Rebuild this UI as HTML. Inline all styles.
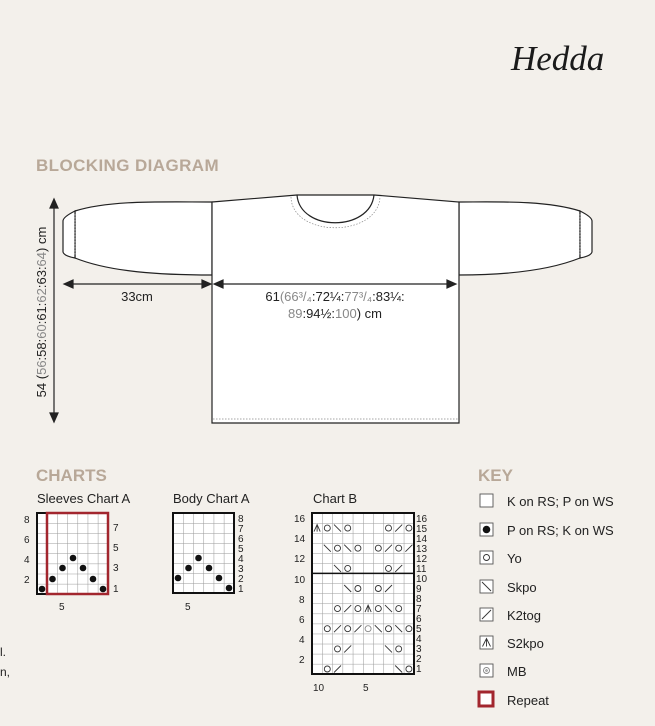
<!DOCTYPE html>
<html><head><meta charset="utf-8"><style>
html,body{margin:0;padding:0;background:#f3f0eb;}
svg{display:block;font-family:"Liberation Sans",sans-serif;}
</style></head><body>
<svg width="655" height="726" viewBox="0 0 655 726" xmlns="http://www.w3.org/2000/svg">
<defs>
<pattern id="gA" x="37" y="513" width="10.14" height="10.125" patternUnits="userSpaceOnUse"><rect width="10.14" height="10.125" fill="#fff"/><path d="M0 0H10.14M0 0V10.125" stroke="#999" stroke-width="1" fill="none"/></pattern>
<pattern id="gB" x="173" y="513" width="10.17" height="10" patternUnits="userSpaceOnUse"><rect width="10.17" height="10" fill="#fff"/><path d="M0 0H10.17M0 0V10" stroke="#999" stroke-width="1" fill="none"/></pattern>
<pattern id="gC" x="312" y="513" width="10.2" height="10.06" patternUnits="userSpaceOnUse"><rect width="10.2" height="10.06" fill="#fff"/><path d="M0 0H10.2M0 0V10.06" stroke="#999" stroke-width="1" fill="none"/></pattern>
</defs>
<rect width="655" height="726" fill="#f3f0eb"/>
<text x="511" y="70" font-family="Liberation Serif,serif" font-style="italic" font-size="35" fill="#1a1a1a">Hedda</text>
<text x="36" y="171" font-size="17" font-weight="bold" fill="#b8a898" letter-spacing="0.4">BLOCKING DIAGRAM</text>

<!-- sweater -->
<g stroke="#222" stroke-width="1.2" fill="#fff">
<path d="M75 211 C110 200 160 202 212 202 L212 275 C160 275 110 272 75 258 Z"/>
<path d="M63 221 Q63 217 75 211 L75 258 Q64 256 63 252 Z"/>
<path d="M580 211 C545 200 495 202 459 202 L459 275 C495 275 545 272 580 258 Z"/>
<path d="M606 221 Q606 217 594 211 L580 211 L580 258 L594 258 Q605 256 606 252 Z" fill="none" stroke="none"/>
<path d="M592 221 Q592 217 580 211 L580 258 Q591 256 592 252 Z"/>
<path d="M212 202 L297 195 L374 195 L459 202 L459 423 L212 423 Z"/>
<path d="M297 195 C300 232 370 232 374 195" fill="none"/>
</g>
<g stroke="#888" stroke-width="0.7" stroke-dasharray="1.5 1.5" fill="none">
<path d="M291 197 C292 238 378 238 380 197"/>
<line x1="213" y1="419" x2="458" y2="419"/>
<line x1="75" y1="214" x2="75" y2="256"/>
<line x1="580" y1="214" x2="580" y2="256"/>
</g>
<!-- arrows -->
<g stroke="#222" stroke-width="1.2" fill="#222">
<line x1="54" y1="205" x2="54" y2="418"/>
<path d="M54 199 L50 208 L58 208 Z"/><path d="M54 422 L50 413 L58 413 Z"/>
<line x1="68" y1="284" x2="207" y2="284"/>
<path d="M64 284 L73 280 L73 288 Z"/><path d="M211 284 L202 280 L202 288 Z"/>
<line x1="218" y1="284" x2="452" y2="284"/>
<path d="M214 284 L223 280 L223 288 Z"/><path d="M456 284 L447 280 L447 288 Z"/>
</g>
<text x="137" y="301" font-size="13" text-anchor="middle" fill="#222">33cm</text>
<text x="335" y="301" font-size="13" text-anchor="middle" fill="#222">61<tspan fill="#888">(66³/₄</tspan>:72¼:<tspan fill="#888">77³/₄</tspan>:83¼:</text>
<text x="335" y="318" font-size="13" text-anchor="middle" fill="#222"><tspan fill="#888">89</tspan>:94½:<tspan fill="#888">100</tspan>) cm</text>
<text transform="translate(46 312) rotate(-90)" font-size="13" text-anchor="middle" fill="#222">54 (<tspan fill="#888">56</tspan>:58:<tspan fill="#888">60</tspan>:61:<tspan fill="#888">62</tspan>:63:<tspan fill="#888">64</tspan>) cm</text>

<!-- charts -->
<text x="36" y="481" font-size="17" font-weight="bold" fill="#b8a898">CHARTS</text>
<text x="37" y="503" font-size="13" fill="#222">Sleeves Chart A</text>
<text x="173" y="503" font-size="13" fill="#222">Body Chart A</text>
<text x="313" y="503" font-size="13" fill="#222">Chart B</text>

<rect x="37" y="513" width="71" height="81" fill="url(#gA)" stroke="#111" stroke-width="2"/>
<rect x="47" y="513" width="61" height="81" fill="none" stroke="#a2262e" stroke-width="2.5"/>
<g fill="#111">
<circle cx="42" cy="589" r="3.3"/><circle cx="103" cy="589" r="3.3"/>
<circle cx="52.5" cy="579" r="3.3"/><circle cx="93" cy="579" r="3.3"/>
<circle cx="62.5" cy="568" r="3.3"/><circle cx="83" cy="568" r="3.3"/>
<circle cx="73" cy="558" r="3.3"/>
</g>
<g font-size="10" fill="#222">
<text x="24" y="523">8</text><text x="24" y="543">6</text><text x="24" y="563">4</text><text x="24" y="583">2</text>
<text x="113" y="531">7</text><text x="113" y="551">5</text><text x="113" y="571">3</text><text x="113" y="592">1</text>
<text x="59" y="610">5</text>
</g>

<rect x="173" y="513" width="61" height="80" fill="url(#gB)" stroke="#111" stroke-width="2"/>
<g fill="#111">
<circle cx="229" cy="588" r="3.3"/>
<circle cx="178" cy="578" r="3.3"/><circle cx="219" cy="578" r="3.3"/>
<circle cx="188.5" cy="568" r="3.3"/><circle cx="209" cy="568" r="3.3"/>
<circle cx="198.5" cy="558" r="3.3"/>
</g>
<g font-size="10" fill="#222">
<text x="238" y="522">8</text><text x="238" y="532">7</text><text x="238" y="542">6</text><text x="238" y="552">5</text><text x="238" y="562">4</text><text x="238" y="572">3</text><text x="238" y="582">2</text><text x="238" y="592">1</text>
<text x="185" y="610">5</text>
</g>

<rect x="312" y="513" width="102" height="161" fill="url(#gC)" stroke="#111" stroke-width="2"/>
<line x1="312" y1="573.4" x2="414" y2="573.4" stroke="#111" stroke-width="1.5"/>
<g fill="none" stroke="#333" stroke-width="0.9">
<path d="M314 531.6 L317.1 524.6 L320.2 531.6 M317.1 524.6 V531.6"/>
<circle cx="327.3" cy="528.1" r="3"/><path d="M334 524.6 L341 531.6"/><circle cx="347.7" cy="528.1" r="3"/>
<circle cx="388.5" cy="528.1" r="3"/><path d="M395.2 531.6 L402.2 524.6"/><circle cx="408.9" cy="528.1" r="3"/>
<path d="M323.8 544.7 L330.8 551.7"/><circle cx="337.5" cy="548.2" r="3"/><path d="M344.2 544.7 L351.2 551.7"/><circle cx="357.9" cy="548.2" r="3"/>
<circle cx="378.3" cy="548.2" r="3"/><path d="M385 551.7 L392 544.7"/><circle cx="398.7" cy="548.2" r="3"/><path d="M405.4 551.7 L412.4 544.7"/>
<path d="M334 564.9 L341 571.9"/><circle cx="347.7" cy="568.4" r="3"/><circle cx="388.5" cy="568.4" r="3"/><path d="M395.2 571.9 L402.2 564.9"/>
<path d="M344.2 585 L351.2 592"/><circle cx="357.9" cy="588.5" r="3"/><circle cx="378.3" cy="588.5" r="3"/><path d="M385 592 L392 585"/>
<circle cx="337.5" cy="608.6" r="3"/><path d="M344.2 612.1 L351.2 605.1"/><circle cx="357.9" cy="608.6" r="3"/>
<path d="M365 612.1 L368.1 605.1 L371.2 612.1 M368.1 605.1 V612.1"/>
<circle cx="378.3" cy="608.6" r="3"/><path d="M385 605.1 L392 612.1"/><circle cx="398.7" cy="608.6" r="3"/>
<circle cx="327.3" cy="628.7" r="3"/><path d="M334 632.2 L341 625.2"/><circle cx="347.7" cy="628.7" r="3"/><path d="M354.4 632.2 L361.4 625.2"/>
<circle cx="368.1" cy="628.7" r="3" stroke="#888"/><path d="M374.8 625.2 L381.8 632.2"/><circle cx="388.5" cy="628.7" r="3"/><path d="M395.2 625.2 L402.2 632.2"/><circle cx="408.9" cy="628.7" r="3"/>
<circle cx="337.5" cy="648.9" r="3"/><path d="M344.2 652.4 L351.2 645.4"/><path d="M385 645.4 L392 652.4"/><circle cx="398.7" cy="648.9" r="3"/>
<circle cx="327.3" cy="669" r="3"/><path d="M334 672.5 L341 665.5"/><path d="M395.2 665.5 L402.2 672.5"/><circle cx="408.9" cy="669" r="3"/>
</g>
<g font-size="10" fill="#222">
<text x="294" y="522">16</text><text x="294" y="542">14</text><text x="294" y="562">12</text><text x="294" y="583">10</text>
<text x="299" y="603">8</text><text x="299" y="623">6</text><text x="299" y="643">4</text><text x="299" y="663">2</text>
<text x="416" y="522">16</text><text x="416" y="532">15</text><text x="416" y="542">14</text><text x="416" y="552">13</text><text x="416" y="562">12</text><text x="416" y="572">11</text><text x="416" y="582">10</text><text x="416" y="592">9</text>
<text x="416" y="602">8</text><text x="416" y="612">7</text><text x="416" y="622">6</text><text x="416" y="632">5</text><text x="416" y="642">4</text><text x="416" y="652">3</text><text x="416" y="662">2</text><text x="416" y="672">1</text>
<text x="313" y="691">10</text><text x="363" y="691">5</text>
</g>

<text x="0" y="656" font-size="12" fill="#222">l.</text>
<text x="0" y="676" font-size="12" fill="#222">n,</text>

<!-- key -->
<text x="478" y="481" font-size="17" font-weight="bold" fill="#b8a898">KEY</text>
<g fill="#fff" stroke="#555" stroke-width="0.9">
<rect x="480" y="494" width="13" height="13"/>
<rect x="480" y="523" width="13" height="13"/>
<rect x="480" y="551" width="13" height="13"/>
<rect x="480" y="580" width="13" height="13"/>
<rect x="480" y="608" width="13" height="13"/>
<rect x="480" y="636" width="13" height="13"/>
<rect x="480" y="664" width="13" height="13"/>
<rect x="479" y="692" width="14" height="14" stroke="#a2262e" stroke-width="3"/>
</g>
<circle cx="486.5" cy="529.5" r="3.8" fill="#111"/>
<g fill="none" stroke="#333" stroke-width="0.9">
<circle cx="486.5" cy="557.5" r="3"/>
<path d="M482 582 L491 591"/>
<path d="M482 619 L491 610"/>
<path d="M482.5 646.5 L486.5 638.5 L490.5 646.5 M486.5 638.5 V646.5"/>
<circle cx="486.5" cy="670.5" r="3" stroke="#888"/><circle cx="486.5" cy="670.5" r="0.8" stroke="#888"/>
</g>
<g font-size="13" fill="#222">
<text x="507" y="506">K on RS; P on WS</text>
<text x="507" y="535">P on RS; K on WS</text>
<text x="507" y="563">Yo</text>
<text x="507" y="592">Skpo</text>
<text x="507" y="620">K2tog</text>
<text x="507" y="648">S2kpo</text>
<text x="507" y="676">MB</text>
<text x="507" y="705">Repeat</text>
</g>
</svg>
</body></html>
